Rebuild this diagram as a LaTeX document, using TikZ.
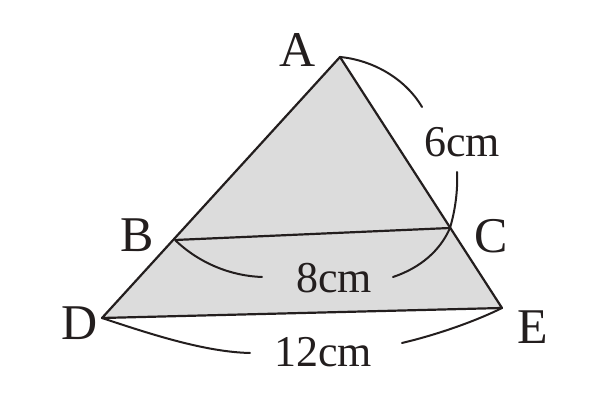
\documentclass[tikz,border=0pt]{standalone}
\usepackage{fontspec}
\setmainfont{Liberation Serif}
\definecolor{trifill}{RGB}{220,220,220}
\definecolor{ink}{RGB}{35,30,30}
\begin{document}
\begin{tikzpicture}[x=1pt,y=1pt,
  edge/.style={draw=ink,line width=2.2pt,line join=round},
  arcline/.style={draw=ink,line width=2pt,line cap=round},
  ptlabel/.style={text=ink,font=\fontsize{50}{50}\selectfont,inner sep=0pt},
  lenlabel/.style={text=ink,font=\fontsize{44}{44}\selectfont,inner sep=0pt}]
\useasboundingbox (0,0) rectangle (598,406);
\coordinate (A) at (340,349);
\coordinate (B) at (175,166);
\coordinate (C) at (450,178);
\coordinate (D) at (102,88);
\coordinate (E) at (502,98);
\fill[fill=trifill] (A) -- (D) -- (E) -- cycle;
\draw[edge] (A) -- (D) -- (E) -- cycle;
\draw[edge] (B) -- (C);
% arcs
\coordinate (a1) at (422,299);
\coordinate (a2) at (457,234);
\draw[arcline] (A) .. controls (372,346) and (405,328) .. (a1);
\draw[arcline] (a2) .. controls (458,215) and (455,195) .. (C);
\coordinate (b1) at (262,129);
\coordinate (b2) at (393,129);
\draw[arcline] (B) .. controls (200,142) and (232,130) .. (b1);
\draw[arcline] (b2) .. controls (420,138) and (440,155) .. (C);
\coordinate (d1) at (250,53);
\coordinate (d2) at (402,63);
\draw[arcline] (D) .. controls (150,72) and (205,54) .. (d1);
\draw[arcline] (d2) .. controls (440,72) and (478,86) .. (E);
% labels
\node[ptlabel] (lA) at (298,356) {A};
\node[ptlabel] (lB) at (137,171) {B};
\node[ptlabel] (lC) at (491,170) {C};
\node[ptlabel] (lD) at (80,83) {D};
\node[ptlabel] (lE) at (533,79) {E};
\node[lenlabel] (l6) at (462,264) {6cm};
\node[lenlabel] (l8) at (334,128) {8cm};
\node[lenlabel] (l12) at (323,54) {12cm};
\end{tikzpicture}
\end{document}
